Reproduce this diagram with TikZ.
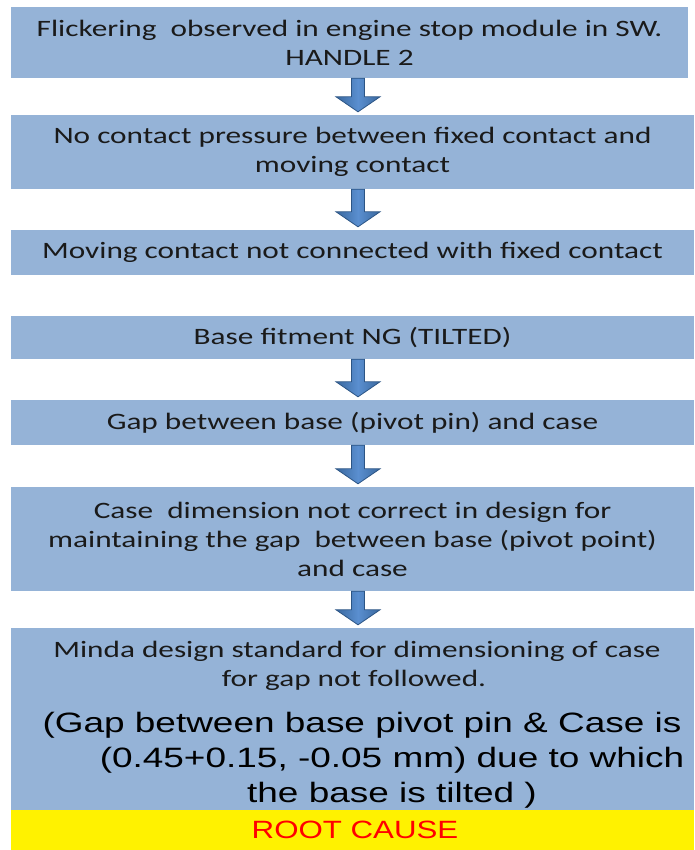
\documentclass[tikz,border=0pt]{standalone}
\usepackage{fontspec}
\setmainfont{Carlito}
\newfontfamily\calfont[FakeStretch=1.33]{Carlito}
\newfontfamily\arialfont[FakeStretch=1.32]{Liberation Sans}
\newfontfamily\rootfont[FakeStretch=1.25]{Liberation Sans}
\usetikzlibrary{calc}
\definecolor{boxfill}{HTML}{95B3D7}
\definecolor{arrowdark}{HTML}{3A689E}
\definecolor{arrowlight}{HTML}{5A8FD0}
\definecolor{arrowline}{HTML}{2C5585}
\definecolor{txt}{HTML}{1A1A1A}
\tikzset{
  box/.style={fill=boxfill, draw=none, inner sep=0pt, minimum width=683pt,
    align=center, text=txt, font=\calfont\fontsize{23.5}{29}\selectfont},
  caltext/.style={inner sep=0pt, anchor=base, text=txt, font=\calfont\fontsize{23.5}{29}\selectfont},
  ariatext/.style={inner sep=0pt, anchor=base, text=black, font=\arialfont\fontsize{28}{35}\selectfont},
  rootbox/.style={fill=yellow, draw=none, inner sep=0pt, minimum width=683pt, minimum height=40pt,
    text=red, font=\rootfont\fontsize{25}{30}\selectfont},
  barrow/.style={draw=arrowline, line width=0.8pt, left color=arrowdark, right color=arrowdark, middle color=arrowlight},
}
\newcommand\blockarrow[2]{%
  \draw[barrow] let \p1=(#1.south), \p2=(#2.north) in
  (351.5pt,\y1) -- (364.5pt,\y1) -- (364.5pt,\y2+18pt) -- (380pt,\y2+18pt) --
  (358pt,\y2+3pt) -- (336pt,\y2+18pt) -- (351.5pt,\y2+18pt) -- cycle;}
\begin{document}
\begin{tikzpicture}[x=1pt,y=-1pt]
\useasboundingbox (0,0) rectangle (694,850);
\node[box, minimum width=677pt, minimum height=71pt] (b1) at (349.5,42.5)
  {Flickering~ observed in engine stop module in SW.\\HANDLE 2};
\node[box, minimum height=74pt] (b2) at (352.5,152)
  {No contact pressure between fixed contact and\\moving contact};
\node[box, minimum height=45pt] (b3) at (352.5,252.5)
  {Moving contact not connected with fixed contact};
\node[box, minimum height=43pt] (b4) at (352.5,337.5)
  {Base fitment NG (TILTED)};
\node[box, minimum height=45pt] (b5) at (352.5,422.5)
  {Gap between base (pivot pin) and case};
\node[box, minimum height=104pt] (b6) at (352.5,539)
  {Case~ dimension not correct in design for\\maintaining the gap~ between base (pivot point)\\and case};
\node[box, minimum height=182pt] (b7) at (352.5,719) {};
\node[caltext] (t1) at (357,657.5) {Minda design standard for dimensioning of case};
\node[caltext] (t2) at (354,686.5) {for gap not followed.};
\node[ariatext] (t3) at (362,732) {(Gap between base pivot pin \& Case is};
\node[ariatext] (t4) at (392,767) {(0.45+0.15, -0.05 mm) due to which};
\node[ariatext] (t5) at (392,802) {the base is tilted )};
\node[rootbox] (rc) at (352.5,830) {\hspace*{5pt}ROOT CAUSE};
\blockarrow{b1}{b2}
\blockarrow{b2}{b3}
\blockarrow{b4}{b5}
\blockarrow{b5}{b6}
\blockarrow{b6}{b7}
\end{tikzpicture}
\end{document}
